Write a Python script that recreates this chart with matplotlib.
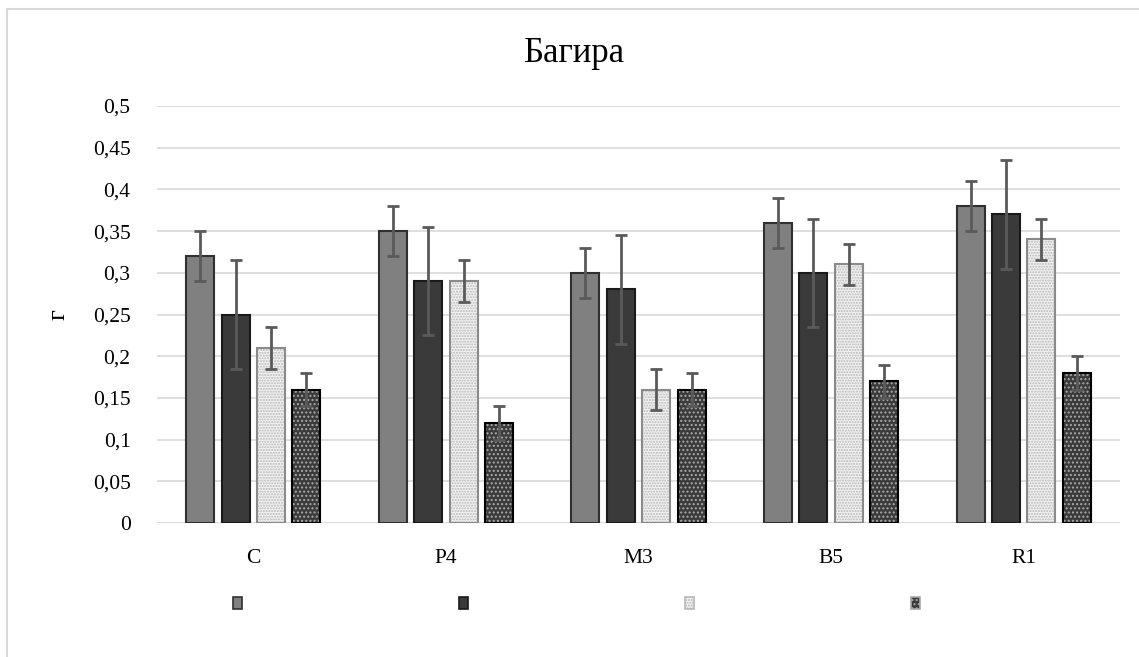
import matplotlib
matplotlib.use("Agg")
import matplotlib.pyplot as plt
from matplotlib.patches import Patch
from matplotlib.lines import Line2D
import numpy as np

categories = ["C", "P4", "M3", "B5", "R1"]
s1 = [0.32, 0.35, 0.30, 0.36, 0.38]
s2 = [0.25, 0.29, 0.28, 0.30, 0.37]
s3 = [0.21, 0.29, 0.16, 0.31, 0.34]
s4 = [0.16, 0.12, 0.16, 0.17, 0.18]
e1 = [0.03, 0.03, 0.03, 0.03, 0.03]
e2 = [0.065, 0.065, 0.065, 0.065, 0.065]
e3 = [0.025, 0.025, 0.025, 0.025, 0.025]
e4 = [0.02, 0.02, 0.02, 0.02, 0.02]
yticks = [0, 0.05, 0.1, 0.15, 0.2, 0.25, 0.3, 0.35, 0.4, 0.45, 0.5]
ytick_labels = ["0", "0,05", "0,1", "0,15", "0,2", "0,25", "0,3", "0,35", "0,4", "0,45", "0,5"]

plt.rcParams['font.family'] = ['Liberation Serif', 'DejaVu Serif']
plt.rcParams['hatch.linewidth'] = 1.0

fig = plt.figure(figsize=(11.39, 6.57), dpi=100)
ax = fig.add_axes([157/1139, 1-523/657, (1120-157)/1139, (523-106)/657])

styles = [
    dict(face="#808080", hatch=None, hcol=None, edge="#303030"),
    dict(face="#3a3a3a", hatch=None, hcol=None, edge="#1a1a1a"),
    dict(face="#f2f2f2", hatch="......", hcol="#b8b8b8", edge="#8a8a8a"),
    dict(face="#3a3a3a", hatch="....", hcol="#a8a8a8", edge="#000000"),
]
series = [s1, s2, s3, s4]
errs = [e1, e2, e3, e4]
x = np.arange(len(categories))
w = 0.145
step = 0.184
for k, (vals, err, st) in enumerate(zip(series, errs, styles)):
    pos = x + (k - 1.5) * step
    if st["hatch"]:
        ax.bar(pos, vals, w, color=st["face"], edgecolor=st["hcol"], hatch=st["hatch"], linewidth=0, zorder=2)
        ax.bar(pos, vals, w, fill=False, edgecolor=st["edge"], linewidth=1.5, zorder=3)
    else:
        ax.bar(pos, vals, w, color=st["face"], edgecolor=st["edge"], linewidth=1.5, zorder=3)
    ax.errorbar(pos, vals, yerr=err, fmt="none", ecolor="#5a5a5a", elinewidth=2,
                capsize=4, capthick=2, zorder=4)

ax.set_xlim(-0.5, 4.5)
ax.set_ylim(0, 0.5)
ax.set_yticks(yticks)
ax.set_yticklabels(ytick_labels)
ax.set_xticks(x)
ax.set_xticklabels(categories)
ax.yaxis.grid(True, color="#d9d9d9", linewidth=1.2, zorder=0)
ax.set_axisbelow(True)
for sp in ax.spines.values():
    sp.set_visible(False)
ax.tick_params(axis="y", length=0, pad=19, labelsize=15.5)
ax.tick_params(axis="x", length=0, pad=18.5, labelsize=15.5)
ax.axhline(0, color="#d9d9d9", linewidth=1.2, zorder=1)

fig.text(58/1139, 1-315/657, "г", ha="center", va="center", rotation=90, fontsize=19)
fig.text(574/1139, 1-62/657, "Багира", ha="center", va="baseline", fontsize=25)

handles = []
for st in styles:
    if st["hatch"]:
        handles.append(Patch(facecolor=st["face"], edgecolor=st["hcol"], hatch=st["hatch"], linewidth=1.2))
    else:
        handles.append(Patch(facecolor=st["face"], edgecolor=st["edge"], linewidth=1.2))
fig.legend(handles, ["", "", "", ""], loc="center", bbox_to_anchor=(576.5/1139, 1-604/657),
           ncol=4, frameon=False, fontsize=10, handlelength=0.65, handleheight=0.95,
           handletextpad=0, columnspacing=15.6)

fig.add_artist(Line2D([7/1139, 1.0], [1-9/657, 1-9/657], color="#d9d9d9", linewidth=1.5))
fig.add_artist(Line2D([7/1139, 7/1139], [0, 1-9/657], color="#d9d9d9", linewidth=1.5))

fig.savefig("out.png", dpi=100)
